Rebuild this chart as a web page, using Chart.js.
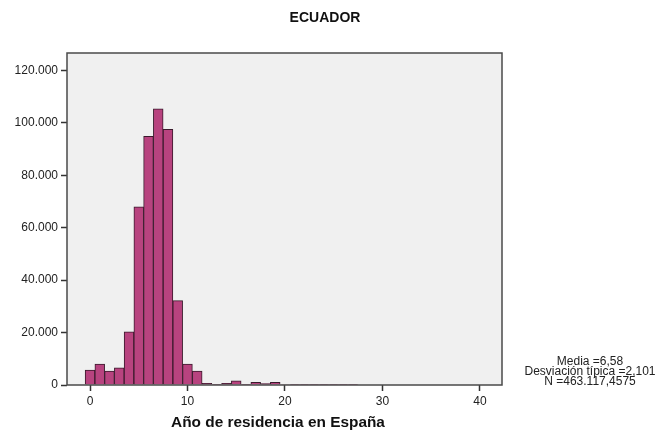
<!DOCTYPE html>
<html>
<head>
<meta charset="utf-8">
<script src="https://cdn.jsdelivr.net/npm/chart.js@4/dist/chart.umd.min.js"></script>
<style>
html,body{margin:0;padding:0;background:#fff;}
#wrap{width:660px;height:436px;position:relative;}
</style>
</head>
<body>
<div id="wrap"><canvas id="c" width="660" height="436"></canvas></div>
<script>
const chartTitle = "ECUADOR";
const xTitle = "Año de residencia en España";
const statsLines = ["Media =6,58", "Desviación típica =2,101", "N =463.117,4575"];
const bins = [0,1,2,3,4,5,6,7,8,9,10,11,12,13,14,15,16,17,18,19,20,21,22,23,24,25,26,27];
const counts = [5700,8000,5300,6600,20300,68000,94900,105400,97600,32200,8000,5300,600,300,600,1600,300,1000,500,1000,200,100,100,100,100,300,100,300];
const xTicks = [0,10,20,30,40];
const yTicks = [0,20000,40000,60000,80000,100000,120000];

const FONT = "'Liberation Sans', Arial, sans-serif";

const frame = {
  id: 'frame',
  beforeDraw(chart) {
    const {ctx, chartArea: a} = chart;
    ctx.save();
    ctx.fillStyle = '#f0f0f0';
    ctx.fillRect(a.left, a.top, a.right - a.left, a.bottom - a.top);
    ctx.restore();
  },
  afterDraw(chart) {
    const {ctx, chartArea: a} = chart;
    ctx.save();
    ctx.strokeStyle = '#4a4a4a';
    ctx.lineWidth = 1.5;
    ctx.strokeRect(a.left, a.top, a.right - a.left, a.bottom - a.top);
    ctx.fillStyle = '#111';
    ctx.textAlign = 'center';
    ctx.textBaseline = 'middle';
    ctx.font = "bold 14px " + FONT;
    ctx.fillText(chartTitle, 325, 18);
    ctx.font = "bold 15.4px " + FONT;
    ctx.fillText(xTitle, 278, 423);
    ctx.font = "12px " + FONT;
    ctx.fillStyle = '#222';
    statsLines.forEach((s, i) => ctx.fillText(s, 590, 361.5 + i * 10));
    ctx.restore();
  }
};

new Chart(document.getElementById('c'), {
  type: 'bar',
  data: {
    datasets: [{
      data: bins.map((b, i) => ({x: b, y: counts[i]})),
      backgroundColor: '#b8437f',
      borderColor: '#3a1a2c',
      borderWidth: 1,
      barPercentage: 1,
      categoryPercentage: 1
    }]
  },
  options: {
    responsive: false,
    animation: false,
    layout: {padding: {left: 0, right: 158, top: 53, bottom: 0}},
    plugins: {legend: {display: false}, tooltip: {enabled: false}},
    scales: {
      x: {
        type: 'linear',
        min: -2.36,
        max: 42.26,
        offset: false,
        afterBuildTicks(s) { s.ticks = xTicks.map(v => ({value: v})); },
        afterFit(s) { s.height = 51; },
        grid: {offset: false, drawOnChartArea: false, drawTicks: true, tickLength: 6, color: '#333', tickWidth: 1.5},
        border: {display: false},
        ticks: {color: '#222', font: {family: FONT, size: 12}, padding: 3, maxRotation: 0}
      },
      y: {
        min: 0,
        max: 126700,
        afterBuildTicks(s) { s.ticks = yTicks.map(v => ({value: v})); },
        afterFit(s) { s.width = 67; },
        grid: {drawOnChartArea: false, drawTicks: true, tickLength: 6, color: '#333', tickWidth: 1.5},
        border: {display: false},
        ticks: {
          color: '#222', font: {family: FONT, size: 12}, padding: 3,
          callback: v => v.toLocaleString('de-DE')
        }
      }
    }
  },
  plugins: [frame]
});
</script>
</body>
</html>
